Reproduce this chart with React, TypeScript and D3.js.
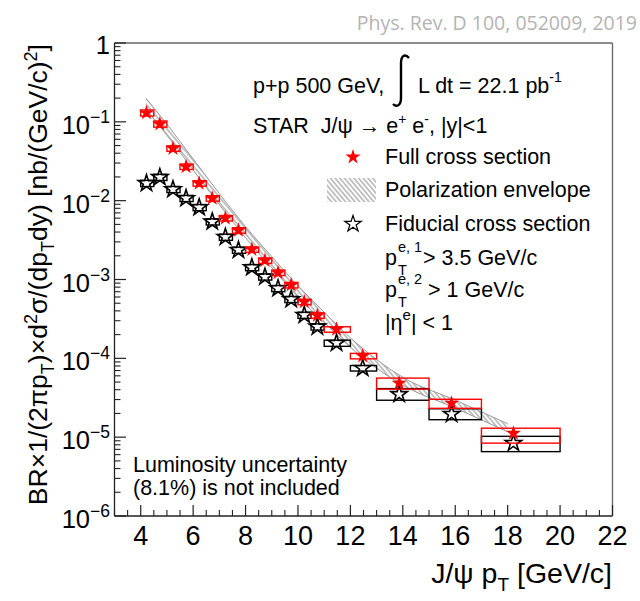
import React from 'react';
import * as d3 from 'd3';

// ---- data ----
const binLow = [4, 4.5, 5, 5.5, 6, 6.5, 7, 7.5, 8, 8.5, 9, 9.5, 10, 10.5, 11, 12, 13, 15, 17];
const binHigh = [4.5, 5, 5.5, 6, 6.5, 7, 7.5, 8, 8.5, 9, 9.5, 10, 10.5, 11, 12, 13, 15, 17, 20];
const ptMean = [4.22, 4.73, 5.23, 5.73, 6.23, 6.73, 7.23, 7.73, 8.24, 8.74, 9.24, 9.74, 10.24, 10.74, 11.47, 12.47, 13.86, 15.86, 18.22];
const fullXsec = [0.130, 0.094, 0.046, 0.027, 0.0166, 0.0107, 0.0060, 0.0042, 0.0024, 0.00174, 0.00122, 0.00085, 0.00052, 0.00035, 0.000233, 0.000107, 4.84e-5, 2.70e-5, 1.12e-5];
const fullSysUp = [0.09, 0.09, 0.08, 0.08, 0.08, 0.08, 0.08, 0.08, 0.08, 0.08, 0.08, 0.08, 0.08, 0.08, 0.08, 0.08, 0.16, 0.12, 0.16];
const fullSysDown = [0.09, 0.09, 0.08, 0.08, 0.08, 0.08, 0.08, 0.08, 0.08, 0.08, 0.08, 0.08, 0.08, 0.08, 0.08, 0.08, 0.16, 0.14, 0.25];
const fidXsec = [0.0166, 0.0198, 0.0139, 0.0107, 0.0082, 0.0054, 0.00345, 0.00236, 0.00142, 0.00108, 0.00077, 0.00056, 0.000353, 0.000251, 0.000156, 7.5e-5, 3.5e-5, 1.96e-5, 8.4e-6];
const fidSysUp = [0.09, 0.09, 0.09, 0.09, 0.09, 0.09, 0.09, 0.09, 0.09, 0.09, 0.09, 0.09, 0.09, 0.09, 0.09, 0.08, 0.18, 0.17, 0.22];
const fidSysDown = [0.09, 0.09, 0.09, 0.09, 0.09, 0.09, 0.09, 0.09, 0.09, 0.09, 0.09, 0.09, 0.09, 0.09, 0.09, 0.08, 0.16, 0.15, 0.22];
const envPt = [4.2, 5, 6, 7, 8, 9, 10, 11, 12, 13, 14, 16, 18];
const envLow = [0.1445, 0.0676, 0.0245, 0.00891, 0.00339, 0.00141, 6.03e-4, 2.85e-4, 1.38e-4, 7.5e-5, 4.57e-5, 2.34e-5, 1.17e-5];
const envHigh = [0.1995, 0.0933, 0.0339, 0.0123, 0.00468, 0.00195, 8.32e-4, 3.85e-4, 1.82e-4, 9.66e-5, 5.75e-5, 2.95e-5, 1.48e-5];
const xTicks = [4, 6, 8, 10, 12, 14, 16, 18, 20, 22];
const yExps = [0, -1, -2, -3, -4, -5, -6];

const FONT = '"Liberation Sans", Arial, Helvetica, sans-serif';

export default function App() {
  const W = 640, H = 601;
  const x = d3.scaleLinear().domain([3, 22]).range([114.5, 612.5]);
  const y = d3.scaleLog().domain([1e-6, 1]).range([516, 43]);

  const xMinor: number[] = d3.range(3, 22.001, 0.5).filter((v) => Math.abs(v / 2 - Math.round(v / 2)) > 1e-6);
  const yMinor: number[] = [];
  for (let e = -6; e < 0; e++) for (let k = 2; k <= 9; k++) yMinor.push(k * Math.pow(10, e));

  const envData = envPt.map((p, i) => ({ p, lo: envLow[i], hi: envHigh[i] }));
  const area = d3.area<any>().x((d) => x(d.p)).y0((d) => y(d.lo)).y1((d) => y(d.hi)).curve(d3.curveMonotoneX);
  const lineLo = d3.line<any>().x((d) => x(d.p)).y((d) => y(d.lo)).curve(d3.curveMonotoneX);
  const lineHi = d3.line<any>().x((d) => x(d.p)).y((d) => y(d.hi)).curve(d3.curveMonotoneX);

  const starFull = d3.symbol().type(d3.symbolStar).size(72)() as string;
  const starOpen = d3.symbol().type(d3.symbolStar).size(84)() as string;

  const txt = { fontFamily: FONT, fontSize: 21.5, fill: '#000', whiteSpace: 'pre' as const };

  return (
    <svg width={W} height={H} style={{ position: 'absolute', left: 0, top: 0, background: '#fff' }}>
      <defs>
        <pattern id="hatch" patternUnits="userSpaceOnUse" width={3.6} height={3.6} patternTransform="rotate(-40)">
          <line x1={1.8} y1={0} x2={1.8} y2={3.6} stroke="#8a8a8a" strokeWidth={1} />
        </pattern>
      </defs>
      <rect x={0} y={0} width={W} height={H} fill="#fff" />

      {/* citation */}
      <text x={637} y={30} textAnchor="end" fill="#b4b4b4" fontFamily='"Open Sans", "Noto Sans", sans-serif' fontSize={19.5}>Phys. Rev. D 100, 052009, 2019</text>

      {/* polarization envelope */}
      <path d={area(envData) as string} fill="url(#hatch)" />
      <path d={lineLo(envData) as string} fill="none" stroke="#9a9a9a" strokeWidth={1} />
      <path d={lineHi(envData) as string} fill="none" stroke="#9a9a9a" strokeWidth={1} />

      {/* fiducial (black) */}
      {fidXsec.map((v, i) => (
        <rect key={'fb' + i} x={x(binLow[i])} y={y(v * (1 + fidSysUp[i]))} width={x(binHigh[i]) - x(binLow[i])}
          height={y(v * (1 - fidSysDown[i])) - y(v * (1 + fidSysUp[i]))} fill="none" stroke="#000" strokeWidth={1.4} />
      ))}
      {fidXsec.map((v, i) => (
        <path key={'fs' + i} d={starOpen} transform={`translate(${x(ptMean[i])},${y(v)})`} fill="none" stroke="#000" strokeWidth={1.6} />
      ))}

      {/* full (red) */}
      {fullXsec.map((v, i) => (
        <rect key={'rb' + i} x={x(binLow[i])} y={y(v * (1 + fullSysUp[i]))} width={x(binHigh[i]) - x(binLow[i])}
          height={y(v * (1 - fullSysDown[i])) - y(v * (1 + fullSysUp[i]))} fill="none" stroke="#ff0000" strokeWidth={1.4} />
      ))}
      {fullXsec.map((v, i) => (
        <path key={'rs' + i} d={starFull} transform={`translate(${x(ptMean[i])},${y(v)})`} fill="#ff0000" />
      ))}

      {/* frame */}
      <line x1={114.5} y1={43} x2={612.5} y2={43} stroke="#666" strokeWidth={1.3} />
      <line x1={612.5} y1={43} x2={612.5} y2={516} stroke="#666" strokeWidth={1.3} />
      <line x1={114.5} y1={43} x2={114.5} y2={516} stroke="#222" strokeWidth={1.3} />
      <line x1={114.5} y1={516} x2={612.5} y2={516} stroke="#222" strokeWidth={1.3} />

      {/* x ticks */}
      {xTicks.map((t) => (
        <line key={'xt' + t} x1={x(t)} x2={x(t)} y1={516} y2={505} stroke="#222" strokeWidth={1.2} />
      ))}
      {xMinor.map((t) => (
        <line key={'xm' + t} x1={x(t)} x2={x(t)} y1={516} y2={510} stroke="#222" strokeWidth={1.1} />
      ))}
      {xTicks.map((t) => (
        <text key={'xl' + t} x={x(t)} y={545} textAnchor="middle" fontFamily={FONT} fontSize={27}>{t}</text>
      ))}

      {/* y ticks */}
      {yExps.map((e) => (
        <line key={'yt' + e} x1={114.5} x2={126} y1={y(Math.pow(10, e))} y2={y(Math.pow(10, e))} stroke="#222" strokeWidth={1.2} />
      ))}
      {yMinor.map((t, i) => (
        <line key={'ym' + i} x1={114.5} x2={120.5} y1={y(t)} y2={y(t)} stroke="#222" strokeWidth={1.1} />
      ))}
      {yExps.map((e) =>
        e === 0 ? (
          <text key={'yl' + e} x={110} y={y(1) + 11} textAnchor="end" fontFamily={FONT} fontSize={25.5}>1</text>
        ) : (
          <text key={'yl' + e} x={110} y={y(Math.pow(10, e)) + 12} textAnchor="end" fontFamily={FONT} fontSize={25.5}>
            10<tspan dy={-11} fontSize={17.5}>{'\u2212' + Math.abs(e)}</tspan>
          </text>
        )
      )}

      {/* axis titles */}
      <text transform="translate(47,44) rotate(-90)" textAnchor="end" fontFamily={FONT} fontSize={26.5} style={{ whiteSpace: 'pre' }}>
        BR×1/(2πp<tspan dy={7} fontSize={18}>T</tspan><tspan dy={-7}>)×d</tspan><tspan dy={-10} fontSize={18}>2</tspan><tspan dy={10}>σ/(dp</tspan><tspan dy={7} fontSize={18}>T</tspan><tspan dy={-7}>dy) [nb/(GeV/c)</tspan><tspan dy={-10} fontSize={18}>2</tspan><tspan dy={10}>]</tspan>
      </text>
      <text x={612} y={583} textAnchor="end" fontFamily={FONT} fontSize={28.5} style={{ whiteSpace: 'pre' }}>
        J/ψ p<tspan dy={8} fontSize={19}>T</tspan><tspan dy={-8}> [GeV/c]</tspan>
      </text>

      {/* header texts */}
      <text x={253} y={93} style={txt}>p+p 500 GeV,</text>
      <path d="M 409 58 C 405 53, 401 56, 401 63 L 401 98 C 401 105, 397 108, 393 104" fill="none" stroke="#000" strokeWidth={2.4} />
      <text x={418} y={93} style={txt}>L dt = 22.1 pb<tspan dy={-11} fontSize={14}>-1</tspan></text>
      <text x={253} y={133} style={txt}>
        STAR  J/ψ → e<tspan dy={-9} fontSize={14}>+</tspan><tspan dy={9}> e</tspan><tspan dy={-9} fontSize={14}>-</tspan><tspan dy={9}>, |y|&lt;1</tspan>
      </text>

      {/* legend */}
      <path d={starFull} transform="translate(353,157)" fill="#ff0000" />
      <text x={385} y={164} style={txt}>Full cross section</text>
      <rect x={327} y={178} width={49} height={24} fill="url(#hatch)" />
      <text x={385} y={197} style={txt}>Polarization envelope</text>
      <path d={starOpen} transform="translate(353,224)" fill="none" stroke="#000" strokeWidth={1.2} />
      <text x={385} y={231} style={txt}>Fiducial cross section</text>

      <text x={385} y={265} style={txt}>p</text>
      <text x={398} y={252} style={{ ...txt, fontSize: 14.5 }}>e, 1</text>
      <text x={398} y={275} style={{ ...txt, fontSize: 14.5 }}>T</text>
      <text x={423} y={265} style={txt}>&gt; 3.5 GeV/c</text>

      <text x={385} y={297} style={txt}>p</text>
      <text x={398} y={284} style={{ ...txt, fontSize: 14.5 }}>e, 2</text>
      <text x={398} y={307} style={{ ...txt, fontSize: 14.5 }}>T</text>
      <text x={428} y={297} style={txt}>&gt; 1 GeV/c</text>

      <text x={385} y={330} style={txt}>|η<tspan dy={-10} fontSize={15}>e</tspan><tspan dy={10}>| &lt; 1</tspan></text>

      <text x={133} y={472} style={txt}>Luminosity uncertainty</text>
      <text x={133} y={495} style={txt}>(8.1%) is not included</text>
    </svg>
  );
}
